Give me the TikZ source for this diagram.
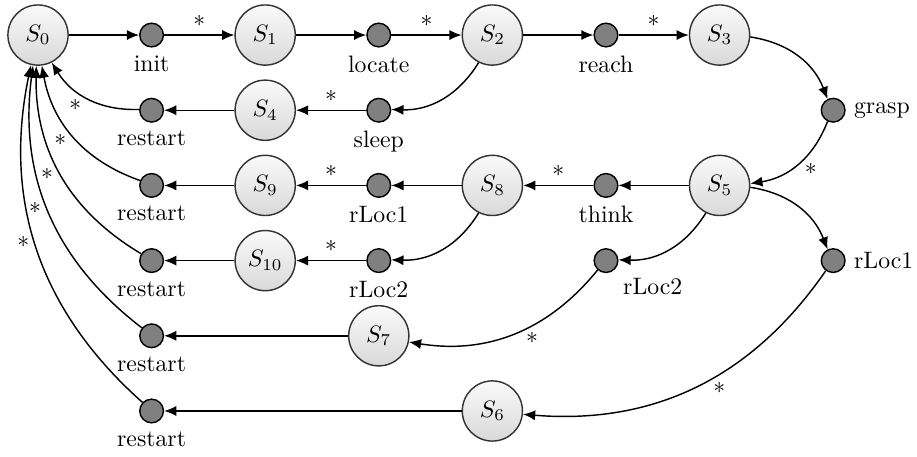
\documentclass[tikz,border=0pt]{standalone}
\usepackage{xcolor}
\usepackage{tikz}
\usetikzlibrary{arrows.meta,positioning}

\begin{document}
\begin{tikzpicture}[x=1.68cm,y=1.112cm,
  st/.style={circle,draw=black!80,semithick,top color=gray!4,bottom color=gray!30,
             minimum size=8.9mm,inner sep=0pt},
  tr/.style={circle,draw=black,semithick,fill=gray,minimum size=3.5mm,inner sep=0pt},
  arr/.style={-{Latex[length=1.8mm,width=1.5mm]},semithick},
  cl/.style={auto,inner sep=1pt}]

\useasboundingbox (-0.562cm,0.518cm) rectangle (13.0cm,-6.228cm);

\node[st] (s0) at (0,0) {$S_0$};
\node[tr,label=below:init] (init) at (1,0) {};
\node[st] (s1) at (2,0) {$S_1$};
\node[tr,label=below:locate] (locate) at (3,0) {};
\node[st] (s2) at (4,0) {$S_2$};
\node[tr,label=below:reach] (reach) at (5,0) {};
\node[st] (s3) at (6,0) {$S_3$};

\node[tr,label=below:restart] (rst1) at (1,-1) {};
\node[st] (s4) at (2,-1) {$S_4$};
\node[tr,label=below:sleep] (sleep) at (3,-1) {};
\node[tr,label=right:grasp] (grasp) at (7,-1) {};

\node[tr,label=below:restart] (rst2) at (1,-2) {};
\node[st] (s9) at (2,-2) {$S_9$};
\node[tr,label=below:rLoc1] (rloc1a) at (3,-2) {};
\node[st] (s8) at (4,-2) {$S_8$};
\node[tr,label=below:think] (think) at (5,-2) {};
\node[st] (s5) at (6,-2) {$S_5$};

\node[tr,label=below:restart] (rst3) at (1,-3) {};
\node[st] (s10) at (2,-3) {$S_{10}$};
\node[tr,label=below:rLoc2] (rloc2a) at (3,-3) {};
\node[tr,label=below right:rLoc2] (rloc2b) at (5,-3) {};
\node[tr,label=right:rLoc1] (rloc1b) at (7,-3) {};

\node[tr,label=below:restart] (rst4) at (1,-4) {};
\node[st] (s7) at (3,-4) {$S_7$};

\node[tr,label=below:restart] (rst5) at (1,-5) {};
\node[st] (s6) at (4,-5) {$S_6$};

\draw[arr] (s0) -- (init);
\draw[arr] (init) -- node[above] {$*$} (s1);
\draw[arr] (s1) -- (locate);
\draw[arr] (locate) -- node[above] {$*$} (s2);
\draw[arr] (s2) -- (reach);
\draw[arr] (reach) -- node[above] {$*$} (s3);
\draw[arr] (s3) to[bend left] (grasp);
\draw[arr] (grasp) to[bend left] node[cl,pos=0.45] {$*$} (s5);

\draw[arr] (s2) to[bend left] (sleep);
\draw[arr] (sleep) -- node[above] {$*$} (s4);
\draw[arr] (s4) -- (rst1);

\draw[arr] (s5) -- (think);
\draw[arr] (think) -- node[above] {$*$} (s8);
\draw[arr] (s8) -- (rloc1a);
\draw[arr] (rloc1a) -- node[above] {$*$} (s9);
\draw[arr] (s9) -- (rst2);

\draw[arr] (s8) to[bend left] (rloc2a);
\draw[arr] (rloc2a) -- node[above] {$*$} (s10);
\draw[arr] (s10) -- (rst3);

\draw[arr] (s5) to[bend left] (rloc2b);
\draw[arr] (rloc2b) to[bend left] node[cl,pos=0.45] {$*$} (s7);
\draw[arr] (s7) -- (rst4);

\draw[arr] (s5) to[bend left] (rloc1b);
\draw[arr] (rloc1b) to[bend left] node[cl,pos=0.45] {$*$} (s6);
\draw[arr] (s6) -- (rst5);

\draw[arr] (rst1) to[bend left] node[cl,pos=0.55] {$*$} (s0);
\draw[arr] (rst2) to[bend left] node[cl,pos=0.55] {$*$} (s0);
\draw[arr] (rst3) to[bend left] node[cl,pos=0.55] {$*$} (s0);
\draw[arr] (rst4) to[bend left] node[cl,pos=0.55] {$*$} (s0);
\draw[arr] (rst5) to[bend left] node[cl,pos=0.55] {$*$} (s0);
\end{tikzpicture}
\end{document}
